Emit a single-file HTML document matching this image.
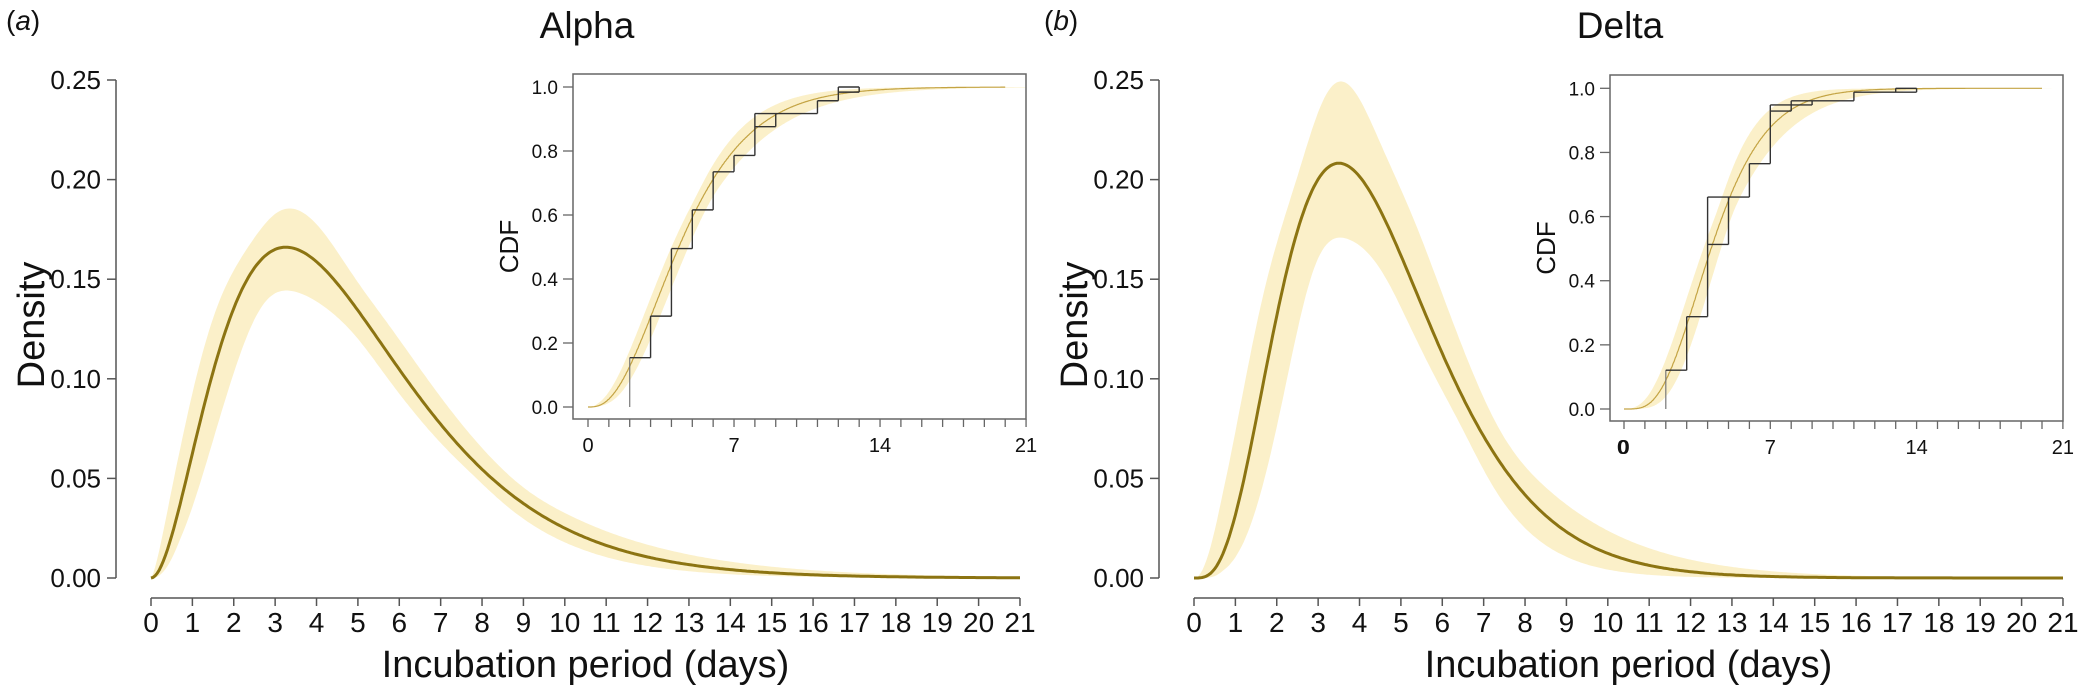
<!DOCTYPE html>
<html><head><meta charset="utf-8"><style>
html,body{margin:0;padding:0;background:#fff;}
svg{display:block;font-family:"Liberation Sans",sans-serif;}
</style></head><body>
<svg id="s" width="2080" height="688" xmlns="http://www.w3.org/2000/svg"></svg>
<script>
const S=document.getElementById('s');let out='';
function lg(z){const g=7,c=[0.99999999999980993,676.5203681218851,-1259.1392167224028,771.32342877765313,-176.61502916214059,12.507343278686905,-0.13857109526572012,9.9843695780195716e-6,1.5056327351493116e-7];
if(z<0.5)return Math.log(Math.PI/Math.sin(Math.PI*z))-lg(1-z);z-=1;let x=c[0];for(let i=1;i<g+2;i++)x+=c[i]/(z+i);const t=z+g+0.5;return 0.5*Math.log(2*Math.PI)+(z+0.5)*Math.log(t)-t+Math.log(x);}
function pdf(x,k,th){if(x<=0)return 0;return Math.exp((k-1)*Math.log(x)-x/th-lg(k)-k*Math.log(th));}
function cdfArr(k,th,xs){let r=[],s=0,h=0.02,x=0;for(const X of xs){while(x<X-1e-9){s+=pdf(x+h/2,k,th)*h;x+=h;}r.push(Math.min(s,1));}return r;}
const xs=[];for(let i=0;i<=420;i++)xs.push(i*0.05);
function grid(kr,mr){let sets=[],N=20;for(let i=0;i<=N;i++)for(let j=0;j<=N;j++){const k=kr[0]+(kr[1]-kr[0])*i/N,m=mr[0]+(mr[1]-mr[0])*j/N;sets.push([k,m/k]);}return sets;}
function smooth(a,W){const n=a.length,r=[];for(let i=0;i<n;i++){const w=Math.min(W,i,n-1-i);let s=0,ws=0;for(let j=-w;j<=w;j++){const q=w+1-Math.abs(j);s+=a[i+j]*q;ws+=q;}r.push(s/ws);}return r;}
function t(x,y,s,size,anchor,extra){out+=`<text x="${x}" y="${y}" font-size="${size}" text-anchor="${anchor||'middle'}" fill="#111" ${extra||''}>${s}</text>`;}
function panel(o){
 const X=d=>o.x0+d*o.dx, Y=v=>578-v*1992;
 const sets=grid(o.kr,o.mr);
 let up=xs.map(()=>0),lo=xs.map(()=>1e9),cu=xs.map(()=>0),cl=xs.map(()=>2);
 sets.forEach(p=>{xs.forEach((x,i)=>{const v=pdf(x,p[0],p[1]);if(v>up[i])up[i]=v;if(v<lo[i])lo[i]=v;});
  const c=cdfArr(p[0],p[1],xs);c.forEach((v,i)=>{if(v>cu[i])cu[i]=v;if(v<cl[i])cl[i]=v;});});
 up=smooth(up,14);lo=smooth(lo,14);cu=smooth(cu,10);cl=smooth(cl,10);
 let band='M'+xs.map((x,i)=>X(x).toFixed(1)+','+Y(up[i]).toFixed(1)).join('L')+'L'+xs.slice().reverse().map((x,i)=>X(x).toFixed(1)+','+Y(lo[xs.length-1-i]).toFixed(1)).join('L')+'Z';
 out+=`<path d="${band}" fill="#FBF0C9"/>`;
 out+=`<path d="M${xs.map(x=>X(x).toFixed(1)+','+Y(pdf(x,o.k,o.th)).toFixed(1)).join('L')}" fill="none" stroke="#8C7412" stroke-width="3"/>`;
 const ax=o.ax;out+=`<path d="M${ax},80V578" stroke="#555" stroke-width="1.5" fill="none"/>`;
 ['0.00','0.05','0.10','0.15','0.20','0.25'].forEach((s,i)=>{const y=578-i*99.6;out+=`<path d="M${ax-9},${y}H${ax}" stroke="#555" stroke-width="1.5"/>`;t(ax-15,y+9,s,26,'end');});
 out+=`<path d="M${X(0)},598H${X(21)}" stroke="#555" stroke-width="1.5"/>`;
 for(let d=0;d<=21;d++){out+=`<path d="M${X(d)},598V606" stroke="#555" stroke-width="1.5"/>`;t(X(d),632,d,28);}
 t((X(0)+X(21))/2,677,'Incubation period (days)',38);
 t(0,0,'Density',38,'middle',`transform="translate(${o.dlx},325) rotate(-90)"`);
 t(o.lab[0],30,o.lab[1],28,'start');
 t(o.tx,38,o.title,37);
 const I=o.in, IX=d=>I.x0+d*I.dx, IY=v=>I.y0-v*I.sy;
 out+=`<path d="M${xs.map((x,i)=>IX(x).toFixed(1)+','+IY(cu[i]).toFixed(1)).join('L')}L${xs.slice().reverse().map((x,i)=>IX(x).toFixed(1)+','+IY(cl[xs.length-1-i]).toFixed(1)).join('L')}Z" fill="#FBF0C9"/>`;
 const cm=cdfArr(o.k,o.th,xs);const lim=xs.filter(x=>x<=20);
 out+=`<path d="M${lim.map((x,i)=>IX(x).toFixed(1)+','+IY(cm[i]).toFixed(1)).join('L')}" fill="none" stroke="#C4A444" stroke-width="1.2"/>`;
 out+=`<path d="M${IX(2)},${IY(0)}V${IY(o.st[0][2])}" stroke="#777" stroke-width="1.2" fill="none"/>`;
 let p='';o.st.forEach(s=>{p+=`M${IX(s[0])},${IY(s[2])}H${IX(s[1])}`;});
 o.vs.forEach(v=>{p+=`M${IX(v[0])},${IY(v[1])}V${IY(v[2])}`;});
 out+=`<path d="${p}" stroke="#333" stroke-width="1.4" fill="none"/>`;
 out+=`<rect x="${I.l}" y="${I.t}" width="${I.r-I.l}" height="${I.b-I.t}" fill="none" stroke="#666" stroke-width="1.5"/>`;
 for(let i=0;i<=5;i++){const y=IY(i*0.2);out+=`<path d="M${I.l-10},${y}H${I.l}" stroke="#666" stroke-width="1.3"/>`;t(I.l-15,y+7,(i*0.2).toFixed(1),19,'end');}
 for(let d=0;d<=21;d++){out+=`<path d="M${IX(d)},${I.b}V${I.b+8}" stroke="#666" stroke-width="1.3"/>`;}
 [0,7,14,21].forEach(d=>t(IX(d),I.b+33,d,20));
 if(o.dbl)t(IX(0)-1.5,I.b+33,'0',20);
 t(0,0,'CDF',26,'middle',`transform="translate(${I.l-55},${(I.t+I.b)/2}) rotate(-90)"`);
}
panel({x0:151,dx:41.38,ax:116,k:3.0,th:1.63,kr:[2.5,3.6],mr:[4.6,5.3],dlx:44,lab:[6,'(<tspan font-style="italic">a</tspan>)'],tx:587,title:'Alpha',
 in:{l:573,r:1026,t:74,b:419,x0:588,dx:20.86,y0:407,sy:320},
 st:[[2,3,.154],[3,4,.284],[4,5,.495],[5,6,.616],[6,7,.735],[7,8,.786],[8,9,.917],[8,9,.876],[9,11,.917],[11,12,.957],[12,13,.984],[12,13,1.0]],
 vs:[[3,.154,.284],[4,.284,.495],[5,.495,.616],[6,.616,.735],[7,.735,.786],[8,.786,.917],[9,.876,.917],[11,.917,.957],[12,.957,1.0],[13,.984,1.0]]});
panel({x0:1194,dx:41.38,ax:1159,k:4.5,th:1.0,kr:[3.4,6.2],mr:[4.2,4.9],dlx:1087,lab:[1044,'(<tspan font-style="italic">b</tspan>)'],tx:1620,title:'Delta',dbl:true,
 in:{l:1610,r:2063,t:75,b:421,x0:1624,dx:20.9,y0:409,sy:320.7},
 st:[[2,3,.121],[3,4,.288],[4,5,.661],[4,5,.513],[5,6,.661],[6,7,.765],[7,8,.948],[7,8,.929],[8,9,.961],[8,9,.948],[9,11,.961],[11,13,.988],[13,14,.988],[13,14,1.0]],
 vs:[[3,.121,.288],[4,.288,.661],[5,.513,.661],[6,.661,.765],[7,.765,.948],[8,.929,.961],[9,.948,.961],[11,.961,.988],[13,.988,1.0],[14,.988,1.0]]});
S.innerHTML=out;
</script>
</body></html>
